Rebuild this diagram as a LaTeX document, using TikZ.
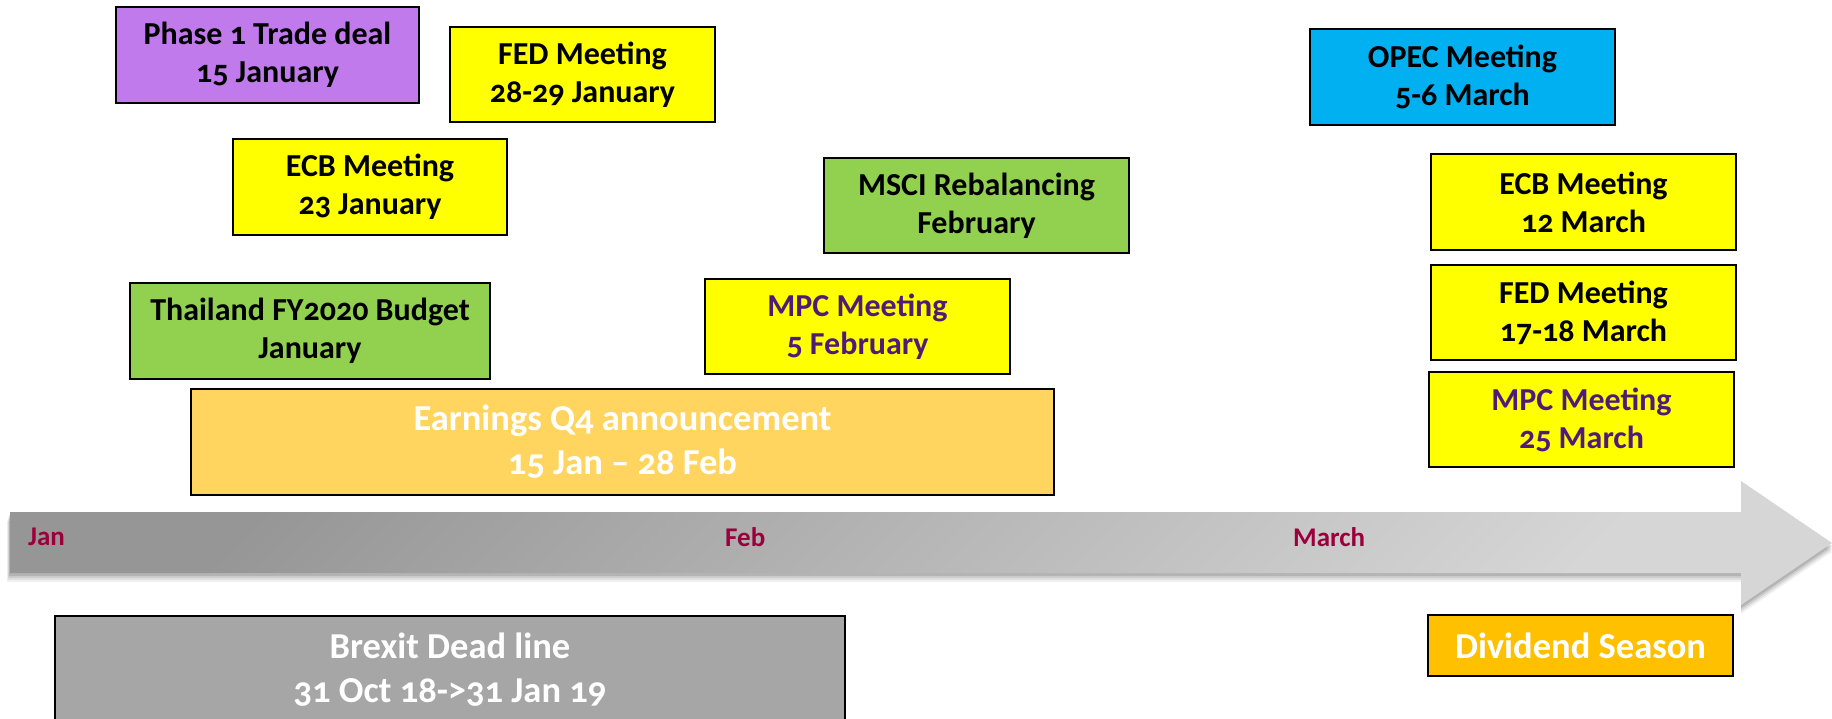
\documentclass[tikz,border=0pt]{standalone}
\usepackage{fontspec}
\setmainfont{Carlito}[Numbers=OldStyle]
\definecolor{evpurple}{RGB}{192,122,236}
\definecolor{evyellow}{RGB}{255,255,0}
\definecolor{evgreen}{RGB}{146,208,80}
\definecolor{evsand}{RGB}{255,213,96}
\definecolor{evblue}{RGB}{0,176,240}
\definecolor{evgold}{RGB}{255,192,0}
\definecolor{evgray}{RGB}{166,166,166}
\definecolor{mpctext}{RGB}{78,28,120}
\definecolor{monthred}{RGB}{155,0,60}
\begin{document}
\begin{tikzpicture}[x=1pt,y=-1pt,
  evt/.style={draw=black, line width=2.2pt, rectangle, inner sep=0pt,
    align=center, font=\bfseries\fontsize{32}{38}\selectfont},
  bigtext/.style={font=\bfseries\fontsize{36.5}{44}\selectfont},
  month/.style={text=monthred, font=\bfseries\fontsize{27}{30}\selectfont, inner sep=0pt}]
\useasboundingbox (0,0) rectangle (1832,719);
\clip (0,0) rectangle (1832,719);

% timeline arrow: soft shadow, then shaded body
\foreach \d/\o in {9/0.05,7/0.07,5/0.09,3/0.12}
  \fill[black, opacity=\o] (10-\d/3,512+\d) -- (1741,512+\d) -- (1741,481+\d) -- (1832,543+\d)
     -- (1741,605+\d) -- (1741,573+\d) -- (10-\d/3,573+\d) -- cycle;
\shade[shading=axis, top color=black!41, bottom color=black!16, shading angle=45]
  (10,512) -- (1741,512) -- (1741,481) -- (1832,543) -- (1741,605) -- (1741,573) -- (10,573) -- cycle;

\node[month, anchor=west] (jan) at (28,537) {Jan};
\node[month, anchor=west] (feb) at (725,537) {Feb};
\node[month, anchor=west] (mar) at (1293,537) {March};

% events above the timeline
\node[evt, fill=evpurple, minimum width=303pt, minimum height=96pt] (phase) at (267.5,55)
  {Phase 1 Trade deal\\15 January};
\node[evt, fill=evyellow, minimum width=265pt, minimum height=95pt] (fedjan) at (582.5,74.5)
  {FED Meeting\\28-29 January};
\node[evt, fill=evyellow, minimum width=274pt, minimum height=96pt] (ecbjan) at (370,187)
  {ECB Meeting\\23 January};
\node[evt, fill=evgreen, minimum width=360pt, minimum height=96pt] (thai) at (310,331)
  {Thailand FY2020 Budget\\January};
\node[evt, bigtext, fill=evsand, text=white, minimum width=863pt, minimum height=106pt] (earn) at (622.5,442)
  {Earnings Q4 announcement\\15 Jan -- 28 Feb};
\node[evt, fill=evgreen, minimum width=305pt, minimum height=95pt] (msci) at (976.5,205.5)
  {MSCI Rebalancing\\February};
\node[evt, fill=evyellow, text=mpctext, minimum width=305pt, minimum height=95pt] (mpcfeb) at (857.5,326.5)
  {MPC Meeting\\5 February};
\node[evt, fill=evblue, minimum width=305pt, minimum height=96pt] (opec) at (1462.5,77)
  {OPEC Meeting\\5-6 March};
\node[evt, fill=evyellow, minimum width=305pt, minimum height=96pt] (ecbmar) at (1583.5,202)
  {ECB Meeting\\12 March};
\node[evt, fill=evyellow, minimum width=305pt, minimum height=95pt] (fedmar) at (1583.5,312.5)
  {FED Meeting\\17-18 March};
\node[evt, fill=evyellow, text=mpctext, minimum width=305pt, minimum height=95pt] (mpcmar) at (1581.5,419.5)
  {MPC Meeting\\25 March};

% events below the timeline
\node[evt, bigtext, fill=evgold, text=white, minimum width=305pt, minimum height=61pt] (div) at (1580.5,645.5)
  {Dividend Season};
\node[evt, bigtext, fill=evgray, text=white, minimum width=790pt, minimum height=108pt] (brexit) at (450,670)
  {Brexit Dead line\\31 Oct 18->31 Jan 19};
\end{tikzpicture}
\end{document}
